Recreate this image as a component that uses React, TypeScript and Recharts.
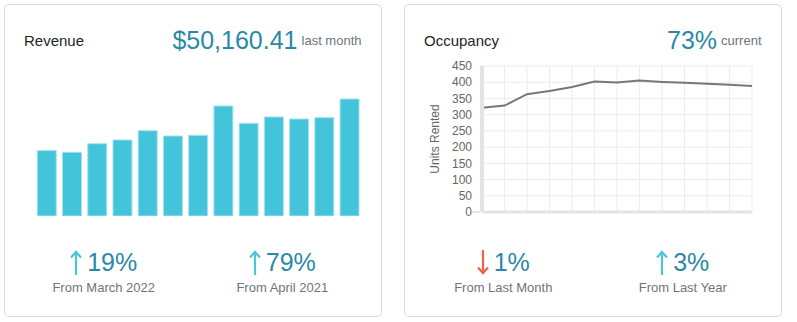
import React from 'react';
import { BarChart, Bar, XAxis, YAxis, LineChart, Line, CartesianGrid } from 'recharts';

const FONT = '"Liberation Sans", Arial, Helvetica, sans-serif';
const TEAL = '#2a8aa6';
const MUTED = '#6c757d';

const months = [
  'Apr 2021', 'May 2021', 'Jun 2021', 'Jul 2021', 'Aug 2021', 'Sep 2021', 'Oct 2021',
  'Nov 2021', 'Dec 2021', 'Jan 2022', 'Feb 2022', 'Mar 2022', 'Apr 2022',
];
const revenue = [28020, 27300, 31000, 32600, 36570, 34300, 34600, 47160, 39740, 42440, 41580, 42150, 50160];
const unitsRented = [321, 328, 363, 373, 385, 402, 399, 405, 401, 398, 395, 392, 388];
const unitTicks = [0, 50, 100, 150, 200, 250, 300, 350, 400, 450];

const revenueHeadline = { value: '$50,160.41', note: 'last month' };
const occupancyHeadline = { value: '73%', note: 'current' };

type Stat = { dir: 'up' | 'down'; value: string; label: string };
const revenueStats: Stat[] = [
  { dir: 'up', value: '19%', label: 'From March 2022' },
  { dir: 'up', value: '79%', label: 'From April 2021' },
];
const occupancyStats: Stat[] = [
  { dir: 'down', value: '1%', label: 'From Last Month' },
  { dir: 'up', value: '3%', label: 'From Last Year' },
];

const revenueData = months.map((m, i) => ({ month: m, revenue: revenue[i] }));
const unitsData = months.map((m, i) => ({ month: m, units: unitsRented[i] }));

function Arrow({ dir }: { dir: 'up' | 'down' }) {
  const color = dir === 'up' ? '#4cc5da' : '#e8654c';
  return (
    <svg width={12} height={25} viewBox="0 0 12 25" style={{ display: 'block', transform: dir === 'down' ? 'rotate(180deg)' : undefined }}>
      <path d="M6 2 L6 25 M1 7.5 L6 2 L11 7.5" fill="none" stroke={color} strokeWidth={2.2} strokeLinecap="butt" strokeLinejoin="miter" />
    </svg>
  );
}

function StatBlock({ stat, cx }: { stat: Stat; cx: number }) {
  return (
    <>
      <div style={{ position: 'absolute', left: cx - 100, top: 250, width: 200, display: 'flex', justifyContent: 'center', alignItems: 'flex-start', gap: 5 }}>
        <Arrow dir={stat.dir} />
        <span style={{ fontSize: 25, lineHeight: '25px', color: TEAL, marginTop: -0.2 }}>{stat.value}</span>
      </div>
      <div style={{ position: 'absolute', left: cx - 100, top: 281.3, width: 200, textAlign: 'center', fontSize: 13, lineHeight: '13px', color: MUTED }}>
        {stat.label}
      </div>
    </>
  );
}

function Header({ title, value, note, left, right }: { title: string; value: string; note: string; left: number; right: number }) {
  return (
    <>
      <div style={{ position: 'absolute', left, top: 33.3, fontSize: 15, lineHeight: '15px', color: '#212529' }}>{title}</div>
      <div style={{ position: 'absolute', right: 797 - right, top: 28.1, display: 'flex', alignItems: 'flex-start', gap: 4 }}>
        <span style={{ fontSize: 25, lineHeight: '25px', color: TEAL }}>{value}</span>
        <span style={{ fontSize: 13, lineHeight: '13px', color: MUTED, marginTop: 5.9 }}>{note}</span>
      </div>
    </>
  );
}

const UnitTick = (p: any) => {
  const { x, y, payload } = p;
  return (
    <g>
      <text x={x} y={y} dy="0.355em" textAnchor="end" fill="#666" fontSize={12} fontFamily={FONT}>{payload.value}</text>
      {payload.value === 0 && <line x1={x} x2={x + 8} y1={y} y2={y} stroke="#c8c8c8" strokeWidth={1} />}
    </g>
  );
};

const EmptyTick = () => <g />;

const UnitsLabel = (p: any) => {
  const vb = p.viewBox || { x: 0, y: 10, width: 72, height: 146 };
  const cx = vb.x + 25;
  const cy = vb.y + vb.height / 2;
  return (
    <text x={cx} y={cy} transform={`rotate(-90 ${cx} ${cy})`} textAnchor="middle" dominantBaseline="central" fill="#666" fontSize={12} fontFamily={FONT}>
      Units Rented
    </text>
  );
};

const cardStyle: React.CSSProperties = {
  position: 'absolute', top: 4, width: 378, height: 313, boxSizing: 'border-box',
  border: '1px solid #dcdcdc', borderRadius: 5, background: '#fff',
};

export default function App() {
  return (
    <div style={{ position: 'absolute', left: 0, top: 0, width: 797, height: 322, background: '#fff', fontFamily: FONT }}>
      <div style={{ ...cardStyle, left: 4 }} />
      <div style={{ ...cardStyle, left: 404 }} />

      {/* Revenue */}
      <Header title="Revenue" value={revenueHeadline.value} note={revenueHeadline.note} left={24} right={361.5} />
      <div style={{ position: 'absolute', left: 34, top: 76 }}>
        <BarChart width={328} height={140} data={revenueData} margin={{ top: 0, right: 0, bottom: 0, left: 0 }} barCategoryGap="13%">
          <XAxis dataKey="month" hide />
          <YAxis hide domain={[0, 60000]} />
          <Bar dataKey="revenue" fill="#43c4db" stroke="#a9e2ec" strokeWidth={1} isAnimationActive={false} />
        </BarChart>
      </div>
      {revenueStats.map((s, i) => <StatBlock key={s.label} stat={s} cx={[103.7, 282.3][i]} />)}

      {/* Occupancy */}
      <Header title="Occupancy" value={occupancyHeadline.value} note={occupancyHeadline.note} left={424} right={761.5} />
      <div style={{ position: 'absolute', left: 410, top: 56 }}>
        <LineChart width={352} height={164} data={unitsData} margin={{ top: 10, right: 10, bottom: 0, left: 0 }}>
          <CartesianGrid stroke="#ececec" />
          <XAxis dataKey="month" interval={0} tick={EmptyTick} tickLine={false} height={8} axisLine={{ stroke: '#e4e4e4', strokeWidth: 3 }} />
          <YAxis
            width={72}
            domain={[0, 450]}
            ticks={unitTicks}
            interval={0}
            tickLine={false}
            tickSize={6}
            tickMargin={4}
            tick={UnitTick}
            axisLine={{ stroke: '#e4e4e4', strokeWidth: 4 }}
            label={{ content: UnitsLabel }}
          />
          <Line type="linear" dataKey="units" stroke="#777" strokeWidth={2} dot={false} isAnimationActive={false} />
        </LineChart>
      </div>
      {occupancyStats.map((s, i) => <StatBlock key={s.label} stat={s} cx={[503.3, 682.8][i]} />)}
    </div>
  );
}
